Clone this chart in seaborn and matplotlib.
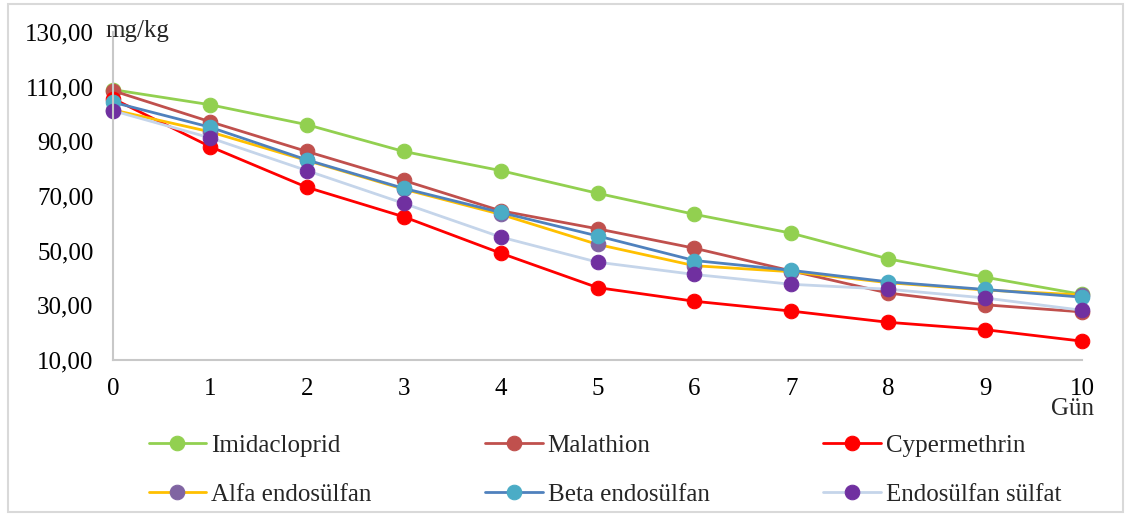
"""Residue decline of pesticides over days (mg/kg)."""

import matplotlib.pyplot as plt
import matplotlib.patches as mpatches
import seaborn as sns
import pandas as pd

days = list(range(11))
imidacloprid = [108.9, 103.4, 96.1, 86.3, 79.3, 71.0, 63.3, 56.4, 47.0, 40.3, 34.0]
malathion = [108.5, 97.2, 86.3, 75.7, 64.6, 58.0, 50.9, 42.6, 34.5, 30.2, 27.6]
cypermethrin = [105.6, 88.1, 73.2, 62.4, 49.1, 36.5, 31.5, 27.9, 23.8, 21.1, 16.9]
alfa_endosulfan = [101.5, 93.5, 83.0, 72.5, 63.3, 52.3, 44.5, 42.3, 38.3, 35.6, 33.8]
beta_endosulfan = [104.3, 95.2, 83.2, 72.8, 64.0, 55.4, 46.4, 42.8, 38.6, 35.8, 33.0]
endosulfan_sulfat = [101.2, 91.3, 79.3, 67.3, 55.0, 45.8, 41.3, 37.7, 35.9, 32.7, 28.2]

names = ["Imidacloprid", "Malathion", "Cypermethrin",
         "Alfa endosülfan", "Beta endosülfan", "Endosülfan sülfat"]
series = [imidacloprid, malathion, cypermethrin,
          alfa_endosulfan, beta_endosulfan, endosulfan_sulfat]
line_colors = ["#92D050", "#C0504D", "#FF0000", "#FFC000", "#4F81BD", "#C5D5EA"]
marker_colors = ["#92D050", "#C0504D", "#FF0000", "#8064A2", "#4BACC6", "#7030A0"]

df = pd.DataFrame({"day": days * len(names),
                   "value": sum(series, []),
                   "name": [n for n in names for _ in days]})

sns.set_style("white")
plt.rcParams["font.family"] = ["Liberation Serif", "DejaVu Serif"]

fig = plt.figure(figsize=(11.28, 5.16), dpi=100)
ax = fig.add_axes([0.1002, 0.3023, 0.859, 0.6357])

for name, lc, mc in zip(names, line_colors, marker_colors):
    sns.lineplot(data=df[df["name"] == name], x="day", y="value", ax=ax,
                 color=lc, linewidth=2, marker="o", markersize=10.5,
                 markerfacecolor=mc, markeredgecolor=mc, label=name,
                 clip_on=False)

ax.set_xlim(0, 10)
ax.set_ylim(10, 130)
ax.set_xticks(days)
ax.set_yticks(range(10, 131, 20))
ax.set_yticklabels([f"{v},00" for v in range(10, 131, 20)])
ax.tick_params(axis="both", length=0, labelsize=18, colors="black")
ax.tick_params(axis="y", pad=14)
ax.tick_params(axis="x", pad=13)
ax.set_xlabel("")
ax.set_ylabel("")
for side in ["top", "right"]:
    ax.spines[side].set_visible(False)
for side in ["left", "bottom"]:
    ax.spines[side].set_color("#C8C8C8")
    ax.spines[side].set_linewidth(1.5)

fig.text(105 / 1128, 1 - 31 / 516, "mg/kg", fontsize=18, va="center", ha="left")
fig.text(1094 / 1128, 1 - 409 / 516, "Gün", fontsize=18, va="center", ha="right")

# legend fills column by column, so reorder to read row by row
handles, labels = ax.get_legend_handles_labels()
ax.get_legend().remove()
order = [0, 3, 1, 4, 2, 5]
fig.legend([handles[i] for i in order], [labels[i] for i in order],
           ncol=3, loc="upper left",
           bbox_to_anchor=(126 / 1128, 1 - 412 / 516), frameon=False,
           fontsize=18, columnspacing=4.55, handlelength=2.3, handletextpad=0.2,
           labelspacing=1.05)

fig.patches.append(mpatches.Rectangle((8 / 1128, 4 / 516), 1115 / 1128, 508 / 516,
                                      transform=fig.transFigure, fill=False,
                                      edgecolor="#D9D9D9", linewidth=1.5))

fig.savefig("out.png", dpi=100)
plt.close(fig)
